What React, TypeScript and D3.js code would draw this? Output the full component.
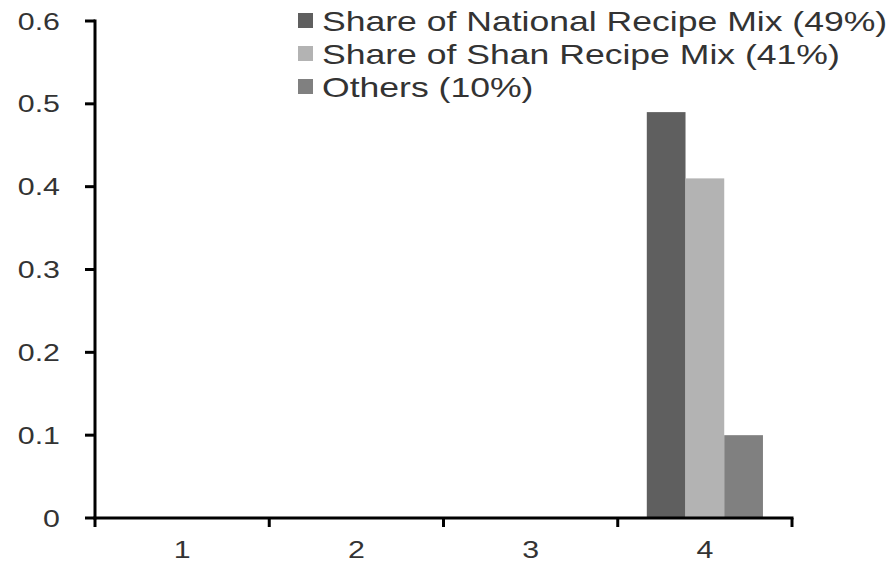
import React from "react";
import * as d3 from "d3";

const categories = ["1", "2", "3", "4"];
const seriesNames = [
  "Share of National Recipe Mix (49%)",
  "Share of Shan Recipe Mix (41%)",
  "Others (10%)",
];
const nationalValues = [0, 0, 0, 0.49];
const shanValues = [0, 0, 0, 0.41];
const otherValues = [0, 0, 0, 0.1];
const yTicks = [0, 0.1, 0.2, 0.3, 0.4, 0.5, 0.6];
const colors = ["#5f5f5f", "#b3b3b3", "#808080"];

const W = 894;
const H = 577;
const left = 95;
const right = 792;
const top = 21;
const bottom = 518;

export default function App() {
  const series = [nationalValues, shanValues, otherValues];
  const x0 = d3.scaleBand<string>().domain(categories).range([left, right]).padding(0);
  const bw = x0.bandwidth();
  const x1 = d3
    .scaleBand<number>()
    .domain([0, 1, 2])
    .range([bw / 6, (bw * 5) / 6])
    .padding(0);
  const y = d3.scaleLinear().domain([0, 0.6]).range([bottom, top]);
  const fmt = (v: number) => (v === 0 ? "0" : d3.format(".1f")(v));
  const sx = 1.32;

  const xTickPos = categories.map((c) => x0(c) as number).concat([right]);

  return (
    <svg
      width={W}
      height={H}
      style={{ position: "absolute", left: 0, top: 0, background: "#fff" }}
      fontFamily="'Liberation Sans', Arial, sans-serif"
    >
      {/* bars */}
      {categories.map((c, ci) =>
        series.map((vals, si) => {
          const v = vals[ci];
          if (!v) return null;
          return (
            <rect
              key={c + si}
              x={(x0(c) as number) + (x1(si) as number)}
              y={y(v)}
              width={x1.bandwidth()}
              height={y(0) - y(v)}
              fill={colors[si]}
            />
          );
        })
      )}
      {/* y axis */}
      <line x1={left} x2={left} y1={y(0.6) - 1.5} y2={bottom + 1.5} stroke="#000" strokeWidth={3} />
      {yTicks.map((t) => (
        <g key={t}>
          <line x1={left - 10} x2={left} y1={y(t)} y2={y(t)} stroke="#000" strokeWidth={3} />
          <text
            transform={`translate(${left - 35},${y(t) + 8.5}) scale(${sx},1)`}
            textAnchor="end"
            fontSize={23}
            fill="#333"
          >
            {fmt(t)}
          </text>
        </g>
      ))}
      {/* x axis */}
      <line x1={left - 1.5} x2={right + 1.5} y1={bottom} y2={bottom} stroke="#000" strokeWidth={3} />
      {xTickPos.map((p, i) => (
        <line key={i} x1={p} x2={p} y1={bottom} y2={bottom + 9} stroke="#000" strokeWidth={3} />
      ))}
      {categories.map((c) => (
        <text
          key={c}
          transform={`translate(${(x0(c) as number) + bw / 2},${bottom + 40}) scale(${sx},1)`}
          textAnchor="middle"
          fontSize={23}
          fill="#333"
        >
          {c}
        </text>
      ))}
      {/* legend */}
      {seriesNames.map((name, i) => (
        <g key={name}>
          <rect x={298} y={13 + i * 33} width={15} height={15} fill={colors[i]} />
          <text
            transform={`translate(322,${31 + i * 33}) scale(1.27,1)`}
            fontSize={28}
            fill="#333"
          >
            {name}
          </text>
        </g>
      ))}
    </svg>
  );
}
